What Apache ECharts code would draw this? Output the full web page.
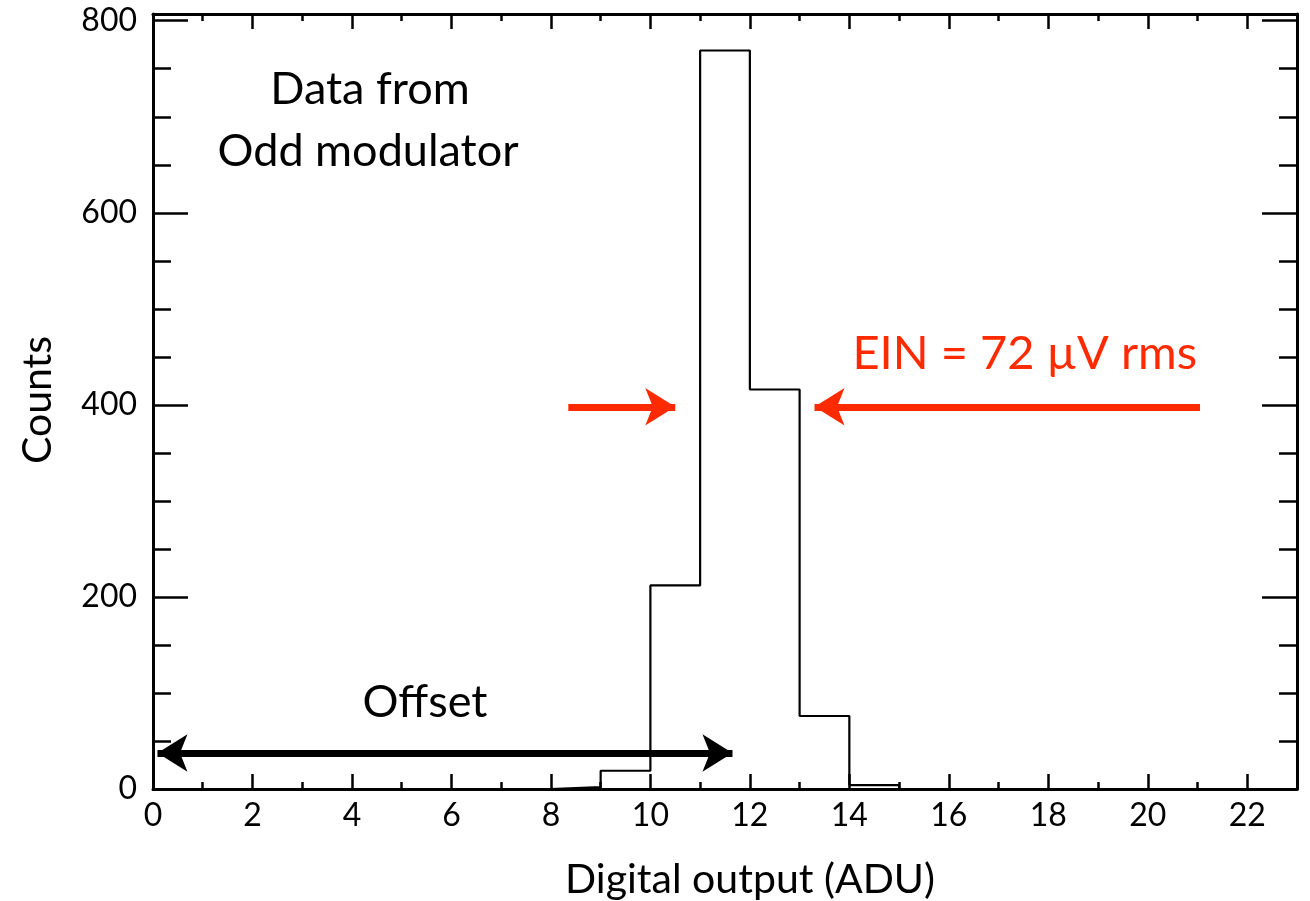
<!DOCTYPE html>
<html>
<head>
<meta charset="utf-8">
<title>Digital output histogram</title>
<script src="https://cdn.jsdelivr.net/npm/echarts@6.0.0/dist/echarts.min.js"></script>
<style>
  html, body { margin: 0; padding: 0; background: #fff; }
  #chart { width: 1310px; height: 901px; }
</style>
</head>
<body>
<div id="chart"></div>
<script>
// Histogram bins: left edge of each 1-ADU bin and the counts in it
const binStarts = [7, 8, 9, 10, 11, 12, 13, 14, 15];
const binCounts = [0, 2, 19, 212, 769, 416, 76, 4, 0];

// Axis ticks
const xMajorTicks = [0, 2, 4, 6, 8, 10, 12, 14, 16, 18, 20, 22];
const xMinorTicks = [1, 3, 5, 7, 9, 11, 13, 15, 17, 19, 21];
const yMajorTicks = [0, 200, 400, 600, 800];
const yMinorTicks = [50, 100, 150, 250, 300, 350, 450, 500, 550, 650, 700, 750];

const X_MAX = 23;
const Y_MAX = 807;
const RED = '#ff2a00';
const FONT = 'Lato, "Open Sans", sans-serif';

// Step outline: each point starts a bin, last point closes the final bin
const stepData = binStarts.map((x, i) => [x, binCounts[i]]);
stepData.push([binStarts[binStarts.length - 1] + 1, binCounts[binCounts.length - 1]]);

function xAxisDef(position, ticks, len, withLine, withLabels) {
  return {
    type: 'value', min: 0, max: X_MAX, position: position,
    axisLine: { show: withLine, onZero: false, lineStyle: { color: '#000', width: 3 } },
    axisTick: { show: true, inside: true, length: len, customValues: ticks,
                lineStyle: { color: '#000', width: 2.5 } },
    axisLabel: withLabels
      ? { show: true, customValues: ticks, color: '#000', fontSize: 32, fontFamily: FONT, margin: 11 }
      : { show: false },
    splitLine: { show: false },
    minorTick: { show: false }
  };
}

function yAxisDef(position, ticks, len, withLine, withLabels) {
  return {
    type: 'value', min: 0, max: Y_MAX, position: position,
    axisLine: { show: withLine, onZero: false, lineStyle: { color: '#000', width: 3 } },
    axisTick: { show: true, inside: true, length: len, customValues: ticks,
                lineStyle: { color: '#000', width: 2.5 } },
    axisLabel: withLabels
      ? { show: true, customValues: ticks, color: '#000', fontSize: 32, fontFamily: FONT, margin: 16 }
      : { show: false },
    splitLine: { show: false },
    minorTick: { show: false }
  };
}

const chart = echarts.init(document.getElementById('chart'), null, { renderer: 'canvas' });

const arrowSize = [28, 30];

chart.setOption({
  animation: false,
  backgroundColor: '#fff',
  grid: { left: 153, right: 13, top: 14, bottom: 112, containLabel: false },
  xAxis: [
    xAxisDef('bottom', xMajorTicks, 15, true, true),
    xAxisDef('bottom', xMinorTicks, 7, false, false),
    xAxisDef('top', xMajorTicks, 15, true, false),
    xAxisDef('top', xMinorTicks, 7, false, false)
  ],
  yAxis: [
    yAxisDef('left', yMajorTicks, 35, true, true),
    yAxisDef('left', yMinorTicks, 18, false, false),
    yAxisDef('right', yMajorTicks, 35, true, false),
    yAxisDef('right', yMinorTicks, 18, false, false)
  ],
  series: [
    {
      type: 'line',
      xAxisIndex: 0,
      yAxisIndex: 0,
      step: 'end',
      data: stepData,
      symbol: 'none',
      silent: true,
      lineStyle: { color: '#000', width: 2.2 },
      z: 3,
      markLine: {
        silent: true,
        animation: false,
        symbolSize: arrowSize,
        label: { show: false },
        emphasis: { disabled: true },
        data: [
          // noise width arrows
          [
            { coord: [8.35, 398], symbol: 'none', lineStyle: { color: RED, width: 7, type: 'solid' }, itemStyle: { color: RED } },
            { coord: [10.5, 398], symbol: 'arrow', symbolSize: arrowSize }
          ],
          [
            { coord: [21.05, 398], symbol: 'none', lineStyle: { color: RED, width: 7, type: 'solid' }, itemStyle: { color: RED } },
            { coord: [13.3, 398], symbol: 'arrow', symbolSize: arrowSize }
          ],
          // offset span
          [
            { coord: [0.09, 37.5], symbol: 'arrow', symbolSize: arrowSize, lineStyle: { color: '#000', width: 7, type: 'solid' }, itemStyle: { color: '#000' } },
            { coord: [11.65, 37.5], symbol: 'arrow', symbolSize: arrowSize }
          ]
        ]
      }
    }
  ],
  graphic: [
    { type: 'text', x: 370, y: 89, style: { text: 'Data from', fill: '#000', font: '45px ' + FONT, textAlign: 'center', textVerticalAlign: 'middle' } },
    { type: 'text', x: 368, y: 151, style: { text: 'Odd modulator', fill: '#000', font: '45px ' + FONT, textAlign: 'center', textVerticalAlign: 'middle' } },
    { type: 'text', x: 1197, y: 354, style: { text: 'EIN = 72 µV rms', fill: RED, font: '47px ' + FONT, textAlign: 'right', textVerticalAlign: 'middle' } },
    { type: 'text', x: 425, y: 702, style: { text: 'Offset', fill: '#000', font: '45px ' + FONT, textAlign: 'center', textVerticalAlign: 'middle' } },
    { type: 'text', x: 38, y: 400, rotation: Math.PI / 2, style: { text: 'Counts', fill: '#000', font: '41px ' + FONT, textAlign: 'center', textVerticalAlign: 'middle' } },
    { type: 'text', x: 750, y: 880, style: { text: 'Digital output (ADU)', fill: '#000', font: '41px ' + FONT, textAlign: 'center', textVerticalAlign: 'middle' } }
  ]
});
</script>
</body>
</html>
